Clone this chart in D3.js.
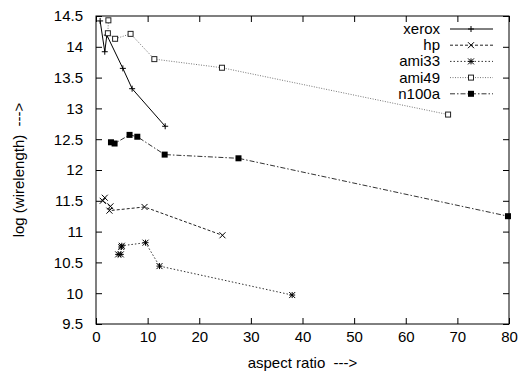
<!DOCTYPE html>
<html lang="en">
<head>
    <meta charset="UTF-8">
    <title>log wirelength vs aspect ratio</title>
    <style>
        body { margin: 0; background: #fff; }
        svg text { font-family: "Liberation Sans", Arial, sans-serif; font-size: 15px; fill: #000; white-space: pre; }
    </style>
</head>
<body>
    <svg id="chart" width="527" height="375"></svg>
    <script src="https://d3js.org/d3.v7.min.js"></script>
    <script>
        // series data
        const seriesNames = ["xerox", "hp", "ami33", "ami49", "n100a"];
        const xeroxX = [0.8, 1.7, 2.1, 5.2, 7.0, 13.4];
        const xeroxY = [14.42, 13.92, 14.19, 13.65, 13.32, 12.71];
        const hpX = [1.7, 1.3, 2.8, 2.6, 9.4, 24.5];
        const hpY = [11.55, 11.50, 11.41, 11.34, 11.40, 10.94];
        const ami33X = [4.3, 4.8, 4.9, 5.0, 9.6, 12.3, 38.0];
        const ami33Y = [10.63, 10.63, 10.75, 10.77, 10.82, 10.44, 9.97];
        const ami49X = [2.4, 2.3, 3.7, 6.7, 11.3, 24.4, 68.2];
        const ami49Y = [14.43, 14.22, 14.13, 14.21, 13.80, 13.66, 12.90];
        const n100aX = [2.9, 3.6, 6.5, 8.0, 13.3, 27.6, 79.8];
        const n100aY = [12.45, 12.43, 12.57, 12.54, 12.25, 12.19, 11.25];
        const xTicks = [0, 10, 20, 30, 40, 50, 60, 70, 80];
        const yTicks = [9.5, 10, 10.5, 11, 11.5, 12, 12.5, 13, 13.5, 14, 14.5];

        const svg = d3.select("#chart");
        const margin = { top: 16, right: 18, bottom: 51, left: 96 };
        const width = 527 - margin.left - margin.right;
        const height = 375 - margin.top - margin.bottom;

        const x = d3.scaleLinear().domain([0, 80]).range([0, width]);
        const y = d3.scaleLinear().domain([9.5, 14.5]).range([height, 0]);
        const fmt = d => String(d);

        const g = svg.append("g").attr("transform", `translate(${margin.left},${margin.top})`);

        // gnuplot style: ticks inside, mirrored on all four sides
        g.append("g").attr("transform", `translate(0,${height})`)
            .call(d3.axisBottom(x).tickValues(xTicks).tickFormat(fmt).tickSizeInner(-6).tickSizeOuter(0).tickPadding(7))
            .call(a => a.select(".domain").remove());
        g.append("g")
            .call(d3.axisTop(x).tickValues(xTicks).tickSizeInner(-6).tickSizeOuter(0).tickFormat(""))
            .call(a => a.select(".domain").remove());
        g.append("g")
            .call(d3.axisLeft(y).tickValues(yTicks).tickFormat(fmt).tickSizeInner(-6).tickSizeOuter(0).tickPadding(13))
            .call(a => a.select(".domain").remove());
        g.append("g").attr("transform", `translate(${width},0)`)
            .call(d3.axisRight(y).tickValues(yTicks).tickSizeInner(-6).tickSizeOuter(0).tickFormat(""))
            .call(a => a.select(".domain").remove());
        g.selectAll(".tick line").attr("stroke", "#000");
        g.selectAll(".tick text").style("font-size", "15px").attr("fill", "#000");

        g.append("rect").attr("width", width).attr("height", height)
            .attr("fill", "none").attr("stroke", "#000").attr("stroke-width", 1);

        // axis titles
        svg.append("text")
            .attr("x", margin.left + width / 2).attr("y", 368)
            .attr("text-anchor", "middle")
            .text("aspect ratio  --->");
        svg.append("text")
            .attr("transform", `translate(24,${margin.top + height / 2}) rotate(-90)`)
            .attr("text-anchor", "middle")
            .text("log (wirelength)  --->");

        const series = [
            { name: seriesNames[0], xs: xeroxX, ys: xeroxY, stroke: "#000", dash: null, mark: "plus" },
            { name: seriesNames[1], xs: hpX, ys: hpY, stroke: "#222", dash: "3,2", mark: "cross" },
            { name: seriesNames[2], xs: ami33X, ys: ami33Y, stroke: "#333", dash: "1.5,2", mark: "star" },
            { name: seriesNames[3], xs: ami49X, ys: ami49Y, stroke: "#777", dash: "1,1.5", mark: "box" },
            { name: seriesNames[4], xs: n100aX, ys: n100aY, stroke: "#333", dash: "5,2,1.5,2", mark: "fbox" }
        ];

        function drawMark(sel, kind, cx, cy) {
            const s = 3;
            if (kind === "plus" || kind === "star") {
                sel.append("path").attr("d", `M${cx - s},${cy}H${cx + s}M${cx},${cy - s}V${cy + s}`)
                    .attr("stroke", "#000").attr("stroke-width", 1);
            }
            if (kind === "cross" || kind === "star") {
                sel.append("path").attr("d", `M${cx - s},${cy - s}L${cx + s},${cy + s}M${cx - s},${cy + s}L${cx + s},${cy - s}`)
                    .attr("stroke", "#000").attr("stroke-width", 1);
            }
            if (kind === "box") {
                sel.append("rect").attr("x", cx - 2.5).attr("y", cy - 2.5).attr("width", 5).attr("height", 5)
                    .attr("fill", "#fff").attr("stroke", "#222").attr("stroke-width", 1);
            }
            if (kind === "fbox") {
                sel.append("rect").attr("x", cx - 3).attr("y", cy - 3).attr("width", 6).attr("height", 6)
                    .attr("fill", "#000");
            }
        }

        const line = d3.line().x(d => x(d[0])).y(d => y(d[1]));

        series.forEach(s => {
            const pts = s.xs.map((v, i) => [v, s.ys[i]]);
            g.append("path").datum(pts)
                .attr("d", line)
                .attr("fill", "none")
                .attr("stroke", s.stroke)
                .attr("stroke-width", 1)
                .attr("stroke-dasharray", s.dash);
            const mg = g.append("g");
            pts.forEach(p => drawMark(mg, s.mark, x(p[0]), y(p[1])));
        });

        // legend, top right inside the frame
        const legend = svg.append("g");
        series.forEach((s, i) => {
            const ly = 29 + i * 16.2;
            legend.append("text")
                .attr("x", 440).attr("y", ly + 5)
                .attr("text-anchor", "end")
                .text(s.name);
            legend.append("line")
                .attr("x1", 450).attr("x2", 493).attr("y1", ly).attr("y2", ly)
                .attr("stroke", s.stroke).attr("stroke-width", 1)
                .attr("stroke-dasharray", s.dash);
            drawMark(legend, s.mark, 471, ly);
        });
    </script>
</body>
</html>
